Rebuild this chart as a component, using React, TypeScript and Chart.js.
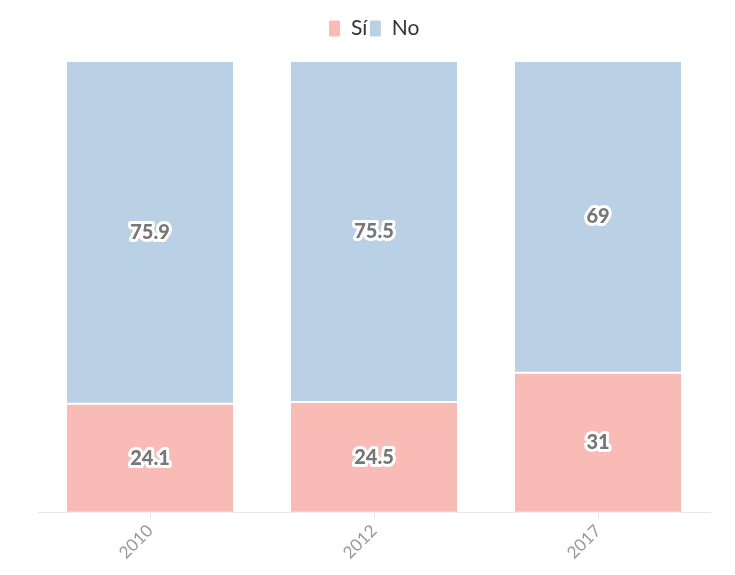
import React, { useEffect, useRef } from "react";
import { Chart, registerables } from "chart.js";
Chart.register(...registerables);

const categories = ["2010", "2012", "2017"];
const siValues = [24.1, 24.5, 31];
const noValues = [75.9, 75.5, 69];

const FONT = "Lato, 'Noto Sans', sans-serif";

const labelPlugin = {
  id: "outlinedLabels",
  afterDatasetsDraw(chart: any) {
    const ctx = chart.ctx;
    ctx.save();
    ctx.font = `900 20px ${FONT}`;
    ctx.textAlign = "center";
    ctx.textBaseline = "middle";
    ctx.lineJoin = "round";
    chart.data.datasets.forEach((ds: any, di: number) => {
      const meta = chart.getDatasetMeta(di);
      meta.data.forEach((bar: any, i: number) => {
        const v = ds.data[i];
        const y = (bar.y + bar.base) / 2;
        const t = String(v);
        ctx.lineWidth = 6;
        ctx.strokeStyle = "#ffffff";
        ctx.strokeText(t, bar.x, y);
        ctx.fillStyle = "#777777";
        ctx.fillText(t, bar.x, y);
      });
    });
    ctx.restore();
  },
};

const legendSpacing = {
  id: "legendSpacing",
  beforeInit(chart: any) {
    const orig = chart.legend.fit;
    chart.legend.fit = function () {
      orig.bind(chart.legend)();
      this.height += 12;
    };
  },
};

export default function App() {
  const ref = useRef<HTMLCanvasElement>(null);
  useEffect(() => {
    const chart = new Chart(ref.current!, {
      type: "bar",
      data: {
        labels: categories,
        datasets: [
          {
            label: "Sí",
            data: siValues,
            backgroundColor: "#f9bbb5",
            borderColor: "#ffffff",
            borderWidth: 1,
            borderSkipped: false,
          },
          {
            label: "No",
            data: noValues,
            backgroundColor: "#bad0e5",
            borderColor: "#ffffff",
            borderWidth: 1,
            borderSkipped: false,
          },
        ],
      },
      options: {
        animation: false,
        responsive: true,
        maintainAspectRatio: false,
        layout: { padding: { left: 30, right: 17, top: 8, bottom: 2 } },
        datasets: { bar: { barPercentage: 0.75, categoryPercentage: 1 } },
        plugins: {
          legend: {
            position: "top",
            labels: {
              font: { family: FONT, size: 21 },
              color: "#333",
              boxWidth: 12,
              boxHeight: 17,
              padding: 2,
              useBorderRadius: true,
              borderRadius: 2,
            },
          },
          tooltip: { enabled: false },
        },
        scales: {
          x: {
            stacked: true,
            grid: { display: true, drawOnChartArea: false, color: "#e6e6e6", tickLength: 6, offset: false },
            border: { color: "#e6e6e6" },
            ticks: {
              color: "#999",
              font: { family: FONT, size: 17 },
              maxRotation: 45,
              minRotation: 45,
              padding: 2,
            },
          },
          y: {
            stacked: true,
            min: 0,
            max: 100,
            display: false,
          },
        },
      },
      plugins: [labelPlugin, legendSpacing],
    });
    return () => chart.destroy();
  }, []);
  return (
    <div style={{ width: 719, height: 559 }}>
      <canvas ref={ref} />
    </div>
  );
}
